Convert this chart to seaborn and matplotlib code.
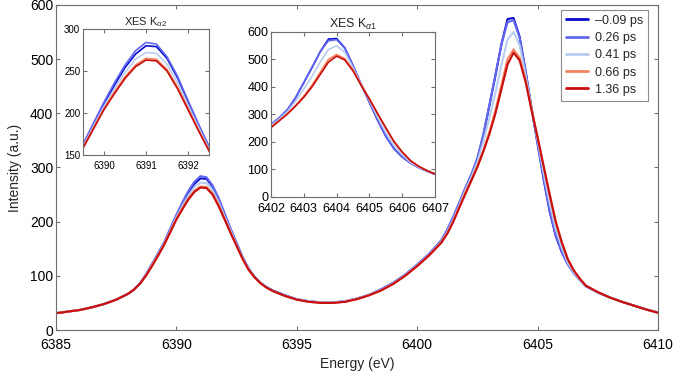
import pandas as pd
import matplotlib
matplotlib.use("Agg")
import matplotlib.pyplot as plt
import seaborn as sns

# energy grid (eV): 0.5 eV in the wings, 0.25 eV around the two peaks
energy = ([6385, 6385.5, 6386, 6386.5, 6387, 6387.5]
          + [6388 + 0.25 * i for i in range(24)]
          + [6394 + 0.5 * i for i in range(14)]
          + [6401 + 0.25 * i for i in range(24)]
          + [6407, 6407.5, 6408, 6408.5, 6409, 6409.5, 6410])

delays = ["\u20130.09 ps", "0.26 ps", "0.41 ps", "0.66 ps", "1.36 ps"]
colors = ["#0a0ad2", "#6268ee", "#b8cdf0", "#f4845f", "#c80d0d"]

int_m009 = [31, 34, 37, 42, 48, 56,
            67, 75, 87, 103, 122, 141, 161, 186, 210, 233, 254, 270, 280, 279, 265, 242, 214, 186, 160, 134, 113, 98, 87, 79,
            73, 64, 57, 53, 51, 51, 53, 58, 65, 75, 87, 102, 120, 140,
            164, 183, 207, 233, 261, 285, 315, 360, 415, 470, 528, 574, 576, 542, 478, 408, 343, 278, 219, 174, 144, 122, 105, 93,
            81, 69, 60, 52, 45, 38, 32]
int_026 = [31, 34, 37, 42, 48, 56,
           67, 75, 87, 104, 123, 143, 163, 188, 213, 236, 257, 274, 284, 282, 267, 244, 215, 187, 160, 134, 113, 98, 87, 79,
           73, 64, 57, 53, 51, 51, 53, 58, 65, 75, 87, 102, 121, 141,
           166, 186, 210, 236, 263, 288, 318, 362, 416, 472, 528, 568, 572, 540, 478, 410, 345, 280, 221, 176, 145, 122, 105, 93,
           81, 69, 60, 52, 45, 38, 32]
int_041 = [31, 34, 37, 42, 48, 56,
           67, 75, 86, 102, 121, 140, 160, 184, 208, 229, 248, 264, 272, 271, 258, 236, 209, 183, 157, 132, 112, 97, 87, 79,
           72, 63, 57, 53, 51, 51, 53, 58, 65, 74, 86, 101, 119, 139,
           163, 181, 204, 230, 258, 282, 310, 348, 392, 438, 490, 536, 550, 526, 470, 408, 350, 290, 234, 187, 153, 125, 106, 94,
           82, 69, 60, 52, 45, 38, 32]
int_066 = [31, 34, 37, 42, 48, 56,
           67, 75, 86, 102, 120, 139, 159, 182, 205, 225, 243, 257, 265, 264, 252, 231, 206, 180, 156, 132, 111, 97, 86, 78,
           72, 63, 56, 52, 50, 50, 52, 57, 64, 73, 85, 100, 118, 138,
           162, 179, 201, 227, 254, 277, 302, 332, 366, 406, 453, 500, 518, 503, 462, 408, 357, 303, 251, 201, 163, 131, 110, 95,
           82, 70, 60, 52, 45, 38, 32]
int_136 = [31, 34, 37, 42, 48, 56,
           67, 75, 86, 101, 119, 138, 158, 181, 204, 223, 241, 255, 263, 262, 250, 229, 204, 179, 155, 131, 111, 97, 86, 78,
           72, 63, 56, 52, 50, 50, 52, 57, 64, 73, 85, 100, 118, 138,
           161, 178, 200, 226, 251, 276, 301, 330, 362, 400, 445, 490, 512, 498, 458, 405, 355, 302, 250, 200, 162, 131, 110, 95,
           82, 70, 60, 52, 45, 38, 32]

series = [int_m009, int_026, int_041, int_066, int_136]
df = pd.concat([pd.DataFrame({"energy": energy, "intensity": vals, "delay": d})
                for d, vals in zip(delays, series)], ignore_index=True)

sns.set_theme(style="ticks")
plt.rcParams["font.family"] = ["Liberation Sans", "DejaVu Sans"]
plt.rcParams["mathtext.fontset"] = "custom"
plt.rcParams["mathtext.rm"] = "Liberation Sans"
plt.rcParams["mathtext.it"] = "Liberation Sans:italic"

spine_col = "#6e6e6e"


def style_axes(ax, size, xpad):
    for s in ax.spines.values():
        s.set_color(spine_col)
        s.set_linewidth(0.8)
    ax.tick_params(direction="in", top=True, right=True, length=3,
                   width=0.8, color=spine_col, labelsize=size, labelcolor="black", pad=2)
    ax.tick_params(axis="x", pad=xpad)
    ax.set_xlabel("")
    ax.set_ylabel("")


def draw(ax, lw, legend=False):
    sns.lineplot(data=df, x="energy", y="intensity", hue="delay", hue_order=delays,
                 palette=colors, estimator=None, sort=False, linewidth=lw,
                 legend=legend, ax=ax)


fig = plt.figure(figsize=(6.74, 3.75), dpi=100)

ax = fig.add_axes([0.0831, 0.12, 0.8932, 0.8667])
draw(ax, 1.5, legend=True)
ax.set_xlim(6385, 6410)
ax.set_ylim(0, 600)
ax.set_xticks(range(6385, 6411, 5))
ax.set_yticks(range(0, 601, 100))
style_axes(ax, 10, 5.5)
ax.set_xlabel("Energy (eV)", fontsize=10, labelpad=4)
ax.set_ylabel("Intensity (a.u.)", fontsize=10, labelpad=6)
leg = ax.legend(loc="upper right", bbox_to_anchor=(0.983, 0.985), fontsize=9,
                frameon=True, fancybox=False, handlelength=1.8, handletextpad=0.5,
                borderpad=0.4, labelspacing=0.42, borderaxespad=0)
leg.get_frame().set_edgecolor(spine_col)
leg.get_frame().set_linewidth(0.8)
for h in leg.legend_handles:
    h.set_linewidth(2.0)

# inset: K alpha 2
ax1 = fig.add_axes([0.1231, 0.5867, 0.1869, 0.336])
draw(ax1, 1.2)
ax1.set_xlim(6389.5, 6392.5)
ax1.set_ylim(150, 300)
ax1.set_xticks([6390, 6391, 6392])
ax1.set_yticks([150, 200, 250, 300])
style_axes(ax1, 7, 4)
ax1.set_title(r"XES K$_{\alpha2}$", fontsize=8, pad=3)

# inset: K alpha 1
ax2 = fig.add_axes([0.4021, 0.476, 0.2433, 0.4387])
draw(ax2, 1.2)
ax2.set_xlim(6402, 6407)
ax2.set_ylim(0, 600)
ax2.set_xticks(range(6402, 6408))
ax2.set_yticks(range(0, 601, 100))
style_axes(ax2, 9, 4.5)
ax2.set_title(r"XES K$_{\alpha1}$", fontsize=9, pad=3)

fig.savefig("out.png", dpi=100)
